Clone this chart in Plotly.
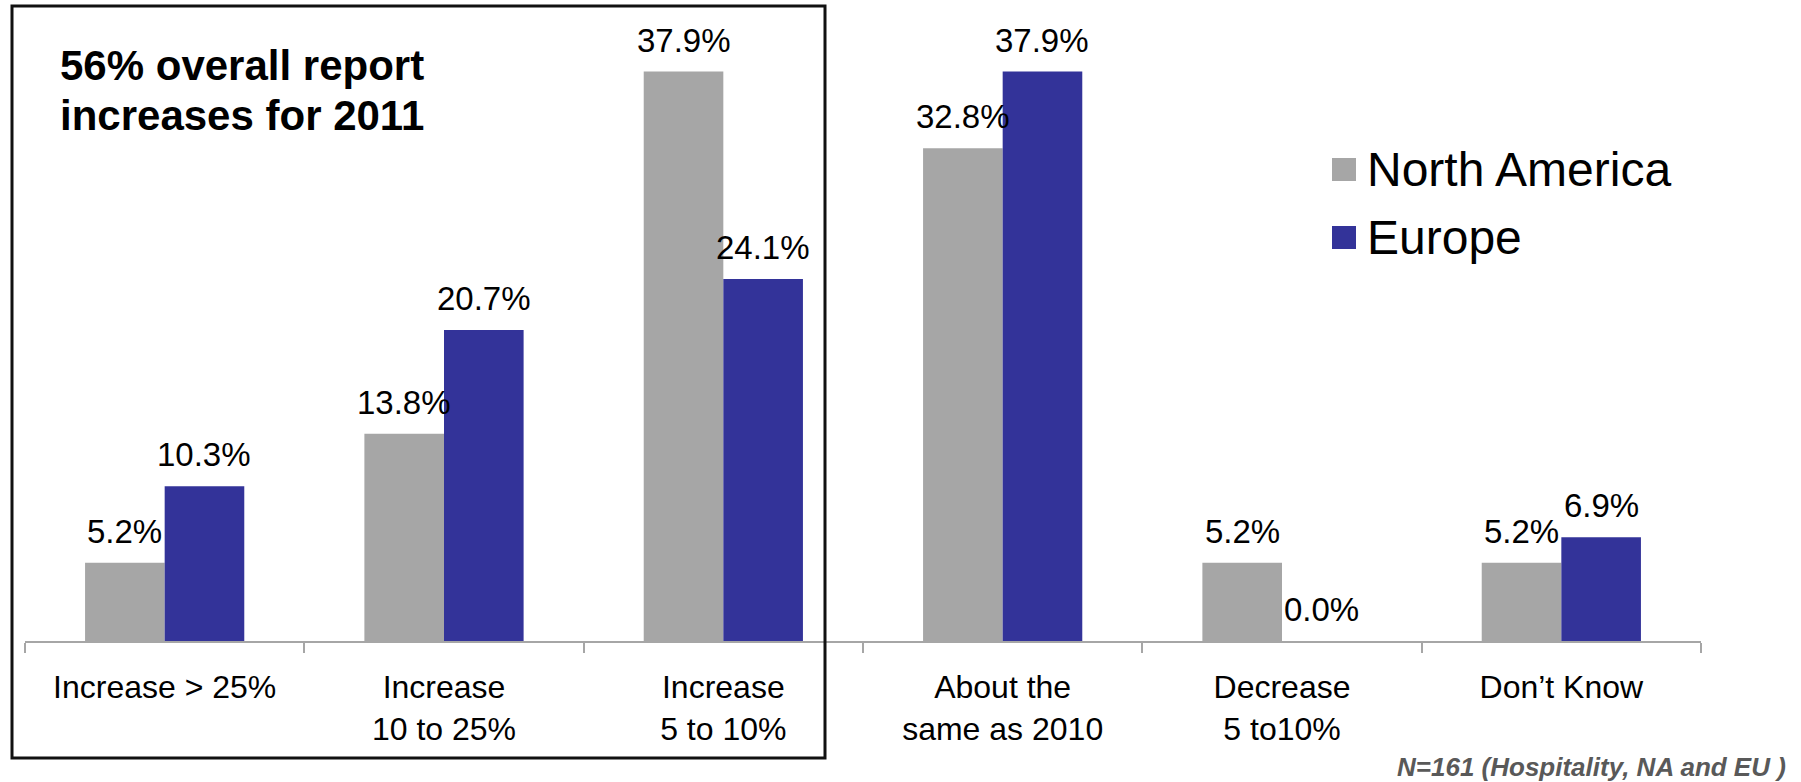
import plotly.graph_objects as go

# Survey responses: expected change in 2011 vs 2010
categories = [
    "Increase > 25%",
    "Increase<br>10 to 25%",
    "Increase<br>5 to 10%",
    "About the<br>same as 2010",
    "Decrease<br>5 to10%",
    "Don\u2019t Know",
]
series_names = ["North America", "Europe"]
north_america = [5.2, 13.8, 37.9, 32.8, 5.2, 5.2]
europe = [10.3, 20.7, 24.1, 37.9, 0.0, 6.9]
series_values = [north_america, europe]
series_colors = ["#a6a6a6", "#333399"]

title_lines = ["56% overall report", "increases for 2011"]
note_text = "N=161 (Hospitality, NA and EU )"

W, H = 1801, 782
M_L, M_R, M_T, M_B = 25, 100, 40, 141
PW, PH = W - M_L - M_R, H - M_T - M_B
BARGAP = 0.43

LABEL_FONT = "Liberation Sans, Arial, sans-serif"
MAIN_FONT = "Liberation Sans, Arial, sans-serif"


def px_x(x):
    return (x - M_L) / PW


def px_y(y):
    return (M_T + PH - y) / PH


fig = go.Figure()
for name, vals, col in zip(series_names, series_values, series_colors):
    fig.add_trace(go.Bar(
        x=categories, y=vals, name=name, marker=dict(color=col, line=dict(width=0)),
        showlegend=False,
    ))

# value labels above each bar
bar_half = PW / len(categories) * (1 - BARGAP) / 4
for vals, shift in zip(series_values, [-bar_half, bar_half]):
    for cat, v in zip(categories, vals):
        fig.add_annotation(
            x=cat, y=v, xref="x", yref="y", text=f"{v:.1f}%",
            showarrow=False, xshift=shift, yanchor="bottom", yshift=11,
            font=dict(family=LABEL_FONT, size=33, color="#000000"),
        )

# legend drawn as swatches + labels
legend_rows = [(158, 181), (226, 249)]
for (y0, y1), name, col in zip(legend_rows, series_names, series_colors):
    fig.add_shape(type="rect", xref="paper", yref="paper",
                  x0=px_x(1332), x1=px_x(1356), y0=px_y(y1), y1=px_y(y0),
                  fillcolor=col, line=dict(width=0))
    fig.add_annotation(
        x=px_x(1365), y=px_y((y0 + y1) / 2), xref="paper", yref="paper",
        text=name, showarrow=False, xanchor="left", yanchor="middle",
        font=dict(family=MAIN_FONT, size=48, color="#000000"),
    )

# highlight box around the increase categories
fig.add_shape(type="rect", xref="paper", yref="paper",
              x0=px_x(12), x1=px_x(825), y0=px_y(758), y1=px_y(6),
              line=dict(color="#111111", width=3), fillcolor="rgba(0,0,0,0)")

# two-line callout inside the box
for line, top in zip(title_lines, [40, 90]):
    fig.add_annotation(
        x=px_x(58), y=px_y(top), xref="paper", yref="paper", text=line,
        showarrow=False, xanchor="left", yanchor="top", align="left",
        font=dict(family=MAIN_FONT, size=42, color="#000000", weight="bold"),
    )

fig.add_annotation(
    x=px_x(1788), y=px_y(767), xref="paper", yref="paper", text=f"<i>{note_text}</i>",
    showarrow=False, xanchor="right", yanchor="middle",
    font=dict(family=MAIN_FONT, size=26, color="#595959", weight="bold"),
)

fig.update_layout(
    width=W, height=H,
    margin=dict(l=M_L, r=M_R, t=M_T, b=M_B, pad=0),
    paper_bgcolor="white", plot_bgcolor="white",
    barmode="group", bargap=BARGAP, bargroupgap=0,
    showlegend=False,
    xaxis=dict(
        type="category", showline=True, linecolor="#a6a6a6", linewidth=2,
        ticks="outside", tickson="boundaries", ticklen=10, tickcolor="#a6a6a6",
        tickwidth=2, showgrid=False, zeroline=False, ticklabelstandoff=17,
        tickfont=dict(family=MAIN_FONT, size=32, color="#000000"),
    ),
    yaxis=dict(range=[0, 40], visible=False, showgrid=False, zeroline=False),
)

fig.write_html("out.html")
